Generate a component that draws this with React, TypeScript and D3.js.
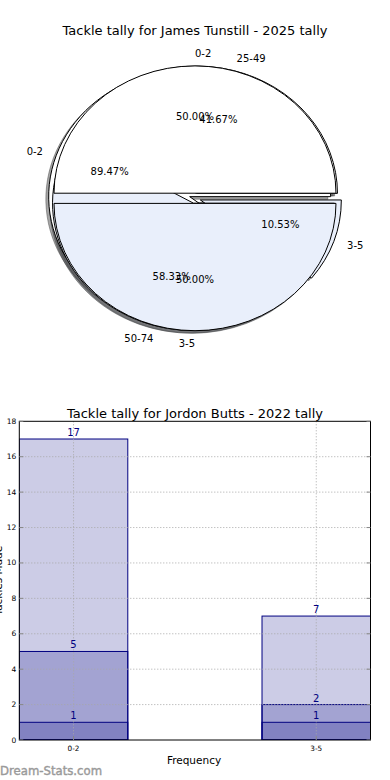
import React from "react";
import * as d3 from "d3";

// ---------- Pie chart data (James Tunstill - 2025) ----------
const pieTitle = "Tackle tally for James Tunstill - 2025 tally";
const pie1Labels = ["0-2", "3-5"];
const pie1Values = [17, 2];
const pie3Labels = ["25-49", "50-74"];
const pie3Values = [5, 7];
const pie2Labels = ["0-2", "3-5"];
const pie2Values = [1, 1];
const sliceColors = ["#ffffff", "#e9effb"];
const explode = 0.04;

// ---------- Bar chart data (Jordon Butts - 2022) ----------
const barTitle = "Tackle tally for Jordon Butts - 2022 tally";
const barCategories = ["0-2", "3-5"];
const seriesA = [17, 7];
const seriesB = [5, 2];
const seriesC = [1, 1];
const yTicks = [0, 2, 4, 6, 8, 10, 12, 14, 16, 18];
const xLabel = "Frequency";
const yLabel = "Tackles Made";
const watermark = "Dream-Stats.com";

const FONT = "'DejaVu Sans', sans-serif";

type PieSpec = { labels: string[]; values: number[] };

function PieGroup({ specs }: { specs: PieSpec[] }) {
  const cx = 195;
  const cy = 198.3;
  const rx = 141;
  const ry = 127.3;
  const pieGen = d3
    .pie<number>()
    .sort(null)
    .startAngle(Math.PI / 2)
    .endAngle(Math.PI / 2 - 2 * Math.PI);
  const arcGen = d3.arc<any>().innerRadius(0).outerRadius(1);

  const shadows: React.ReactNode[] = [];
  const wedges: React.ReactNode[] = [];
  const texts: React.ReactNode[] = [];
  specs.forEach((spec, pi) => {
    const arcs = pieGen(spec.values);
    const total = d3.sum(spec.values);
    arcs.forEach((a, i) => {
      const mid = (a.startAngle + a.endAngle) / 2;
      const theta = Math.PI / 2 - mid;
      const c = Math.cos(theta);
      const s = Math.sin(theta);
      const ox = cx + explode * rx * c;
      const oy = cy - explode * ry * s;
      const path = arcGen(a) as string;
      const col = sliceColors[i % sliceColors.length];
      const base = d3.rgb(col);
      const sf = `rgb(${base.r * 0.3},${base.g * 0.3},${base.b * 0.3})`;
      shadows.push(
        <path
          key={`sh-${pi}-${i}`}
          d={path}
          transform={`translate(${ox - 0.02 * rx},${oy + 0.02 * ry}) scale(${rx},${ry})`}
          fill={sf}
          fillOpacity={0.5}
          stroke={sf}
          strokeOpacity={0.5}
          strokeWidth={1}
          vectorEffect="non-scaling-stroke"
        />
      );
      wedges.push(
        <path
          key={`w-${pi}-${i}`}
          d={path}
          transform={`translate(${ox},${oy}) scale(${rx},${ry})`}
          fill={col}
          stroke="#000"
          strokeWidth={1}
          vectorEffect="non-scaling-stroke"
        />
      );
      const lx = ox + 1.1 * rx * c;
      const ly = oy - 1.1 * ry * s;
      texts.push(
        <text
          key={`l-${pi}-${i}`}
          x={lx}
          y={ly}
          textAnchor={c > 0 ? "start" : "end"}
          dominantBaseline="central"
          fontSize={10}
          fill="#000"
        >
          {spec.labels[i]}
        </text>
      );
      const px = ox + 0.6 * rx * c;
      const py = oy - 0.6 * ry * s;
      texts.push(
        <text
          key={`p-${pi}-${i}`}
          x={px}
          y={py}
          textAnchor="middle"
          dominantBaseline="central"
          fontSize={10}
          fill="#000"
        >
          {((spec.values[i] / total) * 100).toFixed(2) + "%"}
        </text>
      );
    });
  });
  return (
    <g>
      {shadows}
      {wedges}
      {texts}
    </g>
  );
}

function BarChart() {
  const left = 19.3;
  const right = 370.5;
  const top = 421.3;
  const bottom = 740;
  const bw = 0.447;
  const x = d3.scaleLinear().domain([-bw / 2, barCategories.length - 1 + bw / 2]).range([left, right]);
  const y = d3.scaleLinear().domain([0, 18]).range([bottom, top]);
  const series = [seriesA, seriesB, seriesC];
  const grid = "#a8a8a8";

  return (
    <g>
      <defs>
        <clipPath id="plotClip">
          <rect x={left} y={top} width={right - left} height={bottom - top} />
        </clipPath>
      </defs>
      <text x={195} y={413} textAnchor="middle" dominantBaseline="central" fontSize={13} fill="#000">
        {barTitle}
      </text>
      <g clipPath="url(#plotClip)">
        {series.map((vals, si) =>
          vals.map((v, ci) => (
            <rect
              key={`b-${si}-${ci}`}
              x={x(ci - bw / 2)}
              y={y(v)}
              width={x(ci + bw / 2) - x(ci - bw / 2)}
              height={y(0) - y(v)}
              fill="#000080"
              fillOpacity={0.2}
              stroke="#000080"
              strokeWidth={1}
            />
          ))
        )}
        {yTicks.slice(1, -1).map((t) => (
          <line
            key={`gy-${t}`}
            x1={left}
            x2={right}
            y1={y(t)}
            y2={y(t)}
            stroke={grid}
            strokeWidth={1}
            strokeDasharray="1,2"
          />
        ))}
        {barCategories.map((c, i) => (
          <line
            key={`gx-${c}`}
            x1={x(i)}
            x2={x(i)}
            y1={top}
            y2={bottom}
            stroke={grid}
            strokeWidth={1}
            strokeDasharray="1,2"
          />
        ))}
      </g>
      {series.map((vals, si) =>
        vals.map((v, ci) => (
          <text
            key={`bl-${si}-${ci}`}
            x={x(ci)}
            y={y(v) - 3}
            textAnchor="middle"
            fontSize={10}
            fill="#000080"
          >
            {v}
          </text>
        ))
      )}
      <rect x={left} y={top} width={right - left} height={bottom - top} fill="none" stroke="#000" strokeWidth={1} />
      {yTicks.map((t) => (
        <g key={`yt-${t}`}>
          <line x1={left} x2={left + 4} y1={y(t)} y2={y(t)} stroke="#888" strokeWidth={1} />
          <line x1={right - 4} x2={right} y1={y(t)} y2={y(t)} stroke="#888" strokeWidth={1} />
          <text x={left - 3} y={y(t)} textAnchor="end" dominantBaseline="central" fontSize={7.5} fill="#000">
            {t}
          </text>
        </g>
      ))}
      {barCategories.map((c, i) => (
        <g key={`xt-${c}`}>
          <line x1={x(i)} x2={x(i)} y1={bottom} y2={bottom - 4} stroke="#888" strokeWidth={1} />
          <text x={x(i)} y={748} textAnchor="middle" dominantBaseline="central" fontSize={7.3} fill="#000">
            {c}
          </text>
        </g>
      ))}
      <text x={194} y={760} textAnchor="middle" dominantBaseline="central" fontSize={10.5} fill="#000">
        {xLabel}
      </text>
      <text
        transform={`translate(1.5,${(top + bottom) / 2}) rotate(-90)`}
        textAnchor="middle"
        fontSize={10.5}
        fill="#000"
      >
        {yLabel}
      </text>
    </g>
  );
}

export default function App() {
  return (
    <svg
      width={390}
      height={780}
      style={{ position: "absolute", left: 0, top: 0, background: "#fff" }}
      fontFamily={FONT}
    >
      <rect x={0} y={0} width={390} height={780} fill="#fff" />
      <text x={195} y={30} textAnchor="middle" dominantBaseline="central" fontSize={13} fill="#000">
        {pieTitle}
      </text>
      <PieGroup
        specs={[
          { labels: pie1Labels, values: pie1Values },
          { labels: pie3Labels, values: pie3Values },
          { labels: pie2Labels, values: pie2Values },
        ]}
      />
      <BarChart />
      <text x={0} y={775} fontSize={11.7} fill="#9a9a9a" stroke="#9a9a9a" strokeWidth={0.4}>
        {watermark}
      </text>
    </svg>
  );
}
